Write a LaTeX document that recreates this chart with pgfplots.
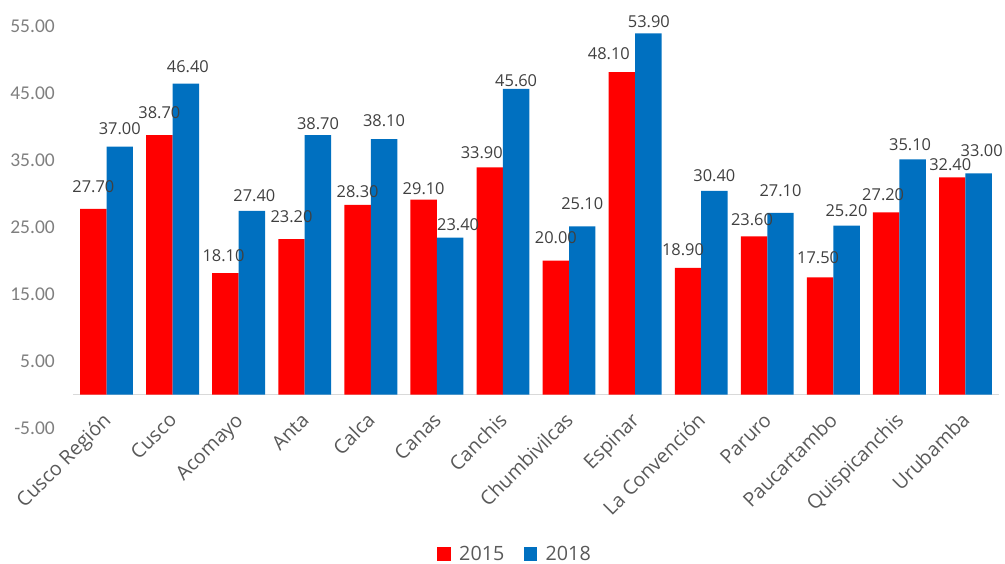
\documentclass[border=0pt]{standalone}
\usepackage{fontspec}
\setmainfont{Open Sans}
\newfontfamily\tickfont{Carlito}
\usepackage{pgfplots}
\usepackage{pgfplotstable}
\pgfplotsset{compat=1.18}

\definecolor{barred}{HTML}{FF0000}
\definecolor{barblue}{HTML}{0070C0}
\definecolor{lbl}{HTML}{404040}
\definecolor{cat}{HTML}{595959}
\definecolor{tck}{HTML}{7F7F7F}
\definecolor{zline}{HTML}{D9D9D9}

% x = category index, y = value, dx/dy = label offset (pt)
\pgfplotstableread{
x  y    dx   dy
0  27.7  0   16
1  38.7  0   16
2  18.1 -2   11.6
3  23.2  0   16
4  28.3  0   6.7
5  29.1  0   4.3
6  33.9 -8   8.3
7  20.0  0   16.7
8  48.1 -13  12
9  18.9 -5   11.7
10 23.6 -2   10.3
11 17.5 -2   13.3
12 27.2 -3   11.3
13 32.4 -2   6.7
}\redtab

\pgfplotstableread{
x  y    dx   dy
0  37.0  0   11.6
1  46.4  2   11
2  27.4  2.5 8.7
3  38.7  0   5
4  38.1  0   12.7
5  23.4  8   7
6  45.6  0   2
7  25.1  0   16.7
8  53.9  0.5 5
9  30.4  0   9.3
10 27.1  0   16
11 25.2  0   8.7
12 35.1 -2.5 8.7
13 33.0  3   16
}\bluetab

% 1 unit = 66.07pt in x, 6.7pt in y
\pgfplotsset{
  vallabels/.style={
    forget plot, draw=none, mark=none,
    point meta=\thisrow{y},
    nodes near coords={\pgfmathprintnumber[fixed,fixed zerofill,precision=2,assume math mode=true]{\pgfplotspointmeta}},
    every node near coord/.append style={font=\fontsize{16.4}{19}\selectfont, text=lbl,
      inner sep=0pt, anchor=south}
  }
}

\begin{document}
\begin{tikzpicture}
\useasboundingbox (-73.5pt,-135pt) rectangle (931.5pt,428pt);
\begin{axis}[
  scale only axis,
  width=925pt, height=402pt,
  at={(0pt,0pt)}, anchor=south west,
  xmin=-0.5, xmax=13.5,
  ymin=-5, ymax=55,
  axis x line*=middle,
  axis y line*=left,
  x axis line style={draw=zline, line width=1.3pt, -},
  y axis line style={draw=none},
  major tick length=0pt,
  xtick={0,...,13},
  xticklabels={Cusco Región,Cusco,Acomayo,Anta,Calca,Canas,Canchis,Chumbivilcas,Espinar,La Convención,Paruro,Paucartambo,Quispicanchis,Urubamba},
  xticklabel style={font=\fontsize{19.7}{23}\selectfont, text=cat, yshift=-21.5pt, rotate=45,
    anchor=north east, inner sep=0pt, text height=0.75em, text depth=0.25em},
  ytick={-5,5,15,25,35,45,55},
  yticklabels={-5.00,5.00,15.00,25.00,35.00,45.00,55.00},
  yticklabel style={font=\tickfont\fontsize{19.5}{23}\selectfont, text=tck,
    anchor=east, inner sep=0pt, xshift=-18.5pt},
  legend style={at={(axis description cs:0.4773,-0.3134)}, anchor=center,
    draw=none, fill=none, legend columns=2,
    font=\fontsize{19.7}{23}\selectfont, text=cat,
    /tikz/every even column/.append style={column sep=17.4pt}},
]
\addplot[ybar, bar width=0.4, bar shift=-0.2, fill=barred, draw=none,
  legend image code/.code={\fill[barred] (0pt,-7pt) rectangle (13.4pt,7pt); \path (20pt,0pt);}]
  table[x=x, y=y] {\redtab};
\addlegendentry{2015}
\addplot[ybar, bar width=0.4, bar shift=0.2, fill=barblue, draw=none,
  legend image code/.code={\fill[barblue] (0pt,-7pt) rectangle (13.4pt,7pt); \path (20pt,0pt);}]
  table[x=x, y=y] {\bluetab};
\addlegendentry{2018}

% value labels
\addplot[vallabels] table[x expr=\thisrow{x}-0.2+\thisrow{dx}/66.07, y expr=\thisrow{y}+\thisrow{dy}/6.7] {\redtab};
\addplot[vallabels] table[x expr=\thisrow{x}+0.2+\thisrow{dx}/66.07, y expr=\thisrow{y}+\thisrow{dy}/6.7] {\bluetab};
\end{axis}
\end{tikzpicture}
\end{document}
